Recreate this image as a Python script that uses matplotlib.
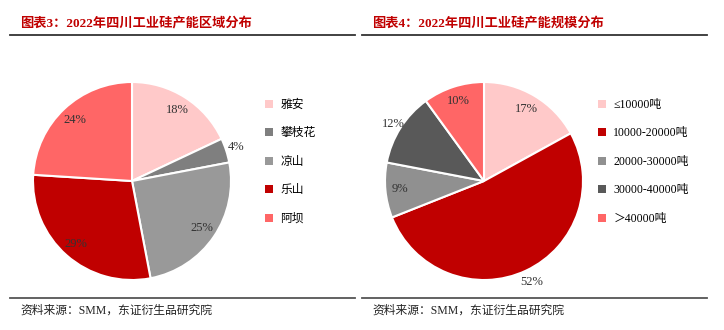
import matplotlib
matplotlib.use("Agg")
import numpy as np
import matplotlib.pyplot as plt
from matplotlib.patches import Patch

plt.rcParams['font.family'] = ['Liberation Serif', 'Noto Sans CJK SC', 'DejaVu Sans']

# chart 3: region split
region_labels = ['雅安', '攀枝花', '凉山', '乐山', '阿坝']
region_share = [18, 4, 25, 29, 24]
region_colors = ['#FFC9C9', '#7F7F7F', '#999999', '#C00000', '#FF6666']

# chart 4: plant size split
size_labels = ['≤10000吨', '10000-20000吨', '20000-30000吨', '30000-40000吨', '＞40000吨']
size_share = [17, 52, 9, 12, 10]
size_colors = ['#FFC9C9', '#C00000', '#909090', '#595959', '#FF6666']

titles = ['图表3：2022年四川工业硅产能区域分布', '图表4：2022年四川工业硅产能规模分布']
source = '资料来源：SMM，东证衍生品研究院'

W, H = 724, 330
fig = plt.figure(figsize=(W / 100, H / 100), dpi=100)
cjk = ['Liberation Serif', 'Noto Sans CJK SC']


def fx(px):
    return px / W


def fy(py):
    return 1 - py / H


def draw_panel(x0, x1, cx, cy, r, shares, labels, colors, title, outside, leg_x):
    # header, rules and source line
    fig.text(fx(x0 + 10), fy(23), title, color='#C00000', fontsize=9.5, fontweight='bold',
             family=cjk, va='center', ha='left')
    fig.add_artist(plt.Line2D([fx(x0), fx(x1)], [fy(35), fy(35)], color='#333333', lw=1.3))
    fig.add_artist(plt.Line2D([fx(x0), fx(x1)], [fy(298), fy(298)], color='#555555', lw=1.3))
    fig.text(fx(x0 + 10), fy(311), source, color='#222222', fontsize=8.5,
             family=cjk, va='center', ha='left')

    ax = fig.add_axes([fx(cx - r), fy(cy + r), 2 * r / W, 2 * r / H])
    wedges, _ = ax.pie(shares, colors=colors, startangle=90, counterclock=False,
                       wedgeprops=dict(edgecolor='white', linewidth=1.5))
    ax.set_xlim(-1, 1)
    ax.set_ylim(-1, 1)
    ax.set_aspect('equal')
    ax.axis('off')

    for i, w in enumerate(wedges):
        ang = np.deg2rad((w.theta1 + w.theta2) / 2)
        d = outside.get(i, 0.85)
        ax.text(d * np.cos(ang), d * np.sin(ang), f'{shares[i]}%', ha='center', va='center',
                fontsize=9, color='#333333')

    handles = [Patch(facecolor=c, edgecolor='none') for c in colors]
    fig.legend(handles, labels, loc='upper left', bbox_to_anchor=(fx(leg_x), fy(93)),
               frameon=False, handlelength=0.7, handleheight=0.7,
               handletextpad=0.6, labelspacing=1.4, borderpad=0,
               prop={'family': cjk, 'size': 8.5})


draw_panel(10, 355, 132, 181, 99, region_share, region_labels, region_colors, titles[0],
           {1: 1.1}, 259)
draw_panel(362, 707, 484, 181, 99, size_share, size_labels, size_colors, titles[1],
           {1: 1.13, 3: 1.08}, 592)

fig.savefig('out.png', dpi=100, facecolor='white')
